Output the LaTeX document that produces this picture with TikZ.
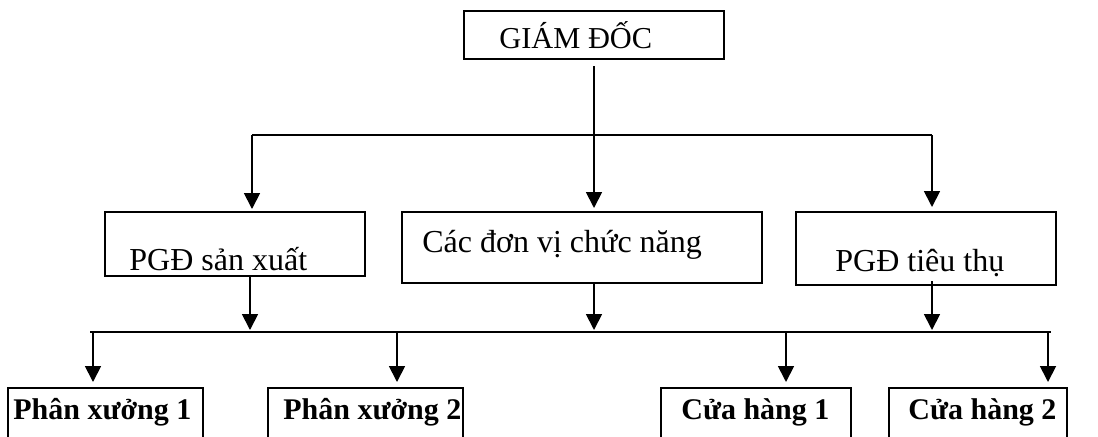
\documentclass[tikz,border=0pt]{standalone}
\usepackage{fontspec}
\setmainfont{Liberation Serif}
\usetikzlibrary{arrows.meta}
\tikzset{
  box/.style={draw, line width=0.7pt, rectangle, inner sep=0pt, outer sep=0pt, anchor=north west},
  txt/.style={inner sep=0pt, anchor=base west, font=\fontsize{16}{19}\selectfont},
  btxt/.style={inner sep=0pt, anchor=base west, font=\fontsize{15}{18}\selectfont\bfseries},
  bus/.style={line width=0.65pt},
  arr/.style={line width=0.9pt, -{Triangle[width=8pt,length=8pt]}}
}
\begin{document}
\begin{tikzpicture}[x=0.5pt, y=-0.5pt]
                \clip (0,0) rectangle (1098,436);
                \fill[white] (0,0) rectangle (1098,436);

                % boxes
                \node[box, minimum width=130pt, minimum height=24pt] (gd) at (464,11) {};
                \node[box, minimum width=130pt, minimum height=32pt] (psx) at (105,212) {};
                \node[box, minimum width=180pt, minimum height=35.5pt] (dvcn) at (402,212) {};
                \node[box, minimum width=130pt, minimum height=36.5pt] (ptt) at (796,212) {};
                \node[box, minimum width=97.5pt, minimum height=30pt] (px1) at (8,388) {};
                \node[box, minimum width=97.5pt, minimum height=30pt] (px2) at (268,388) {};
                \node[box, minimum width=95pt, minimum height=30pt] (ch1) at (661,388) {};
                \node[box, minimum width=89pt, minimum height=30pt] (ch2) at (889,388) {};

                % texts
                \node[txt, font=\fontsize{15.2}{18}\selectfont] (gdt) at (499,48) {GIÁM ĐỐC};
                \node[txt] (psxt) at (129,270) {PGĐ sản xuất};
                \node[txt] (dvcnt) at (422,252) {Các đơn vị chức năng};
                \node[txt] (pttt) at (835,271) {PGĐ tiêu thụ};
                \node[btxt] (px1t) at (13,419) {Phân xưởng 1};
                \node[btxt] (px2t) at (283,419) {Phân xưởng 2};
                \node[btxt] (ch1t) at (681,419) {Cửa hàng 1};
                \node[btxt] (ch2t) at (908,419) {Cửa hàng 2};

                % upper bus
                \coordinate (b1l) at (252,135);
                \coordinate (b1r) at (932,135);
                \coordinate (b1m) at (594,135);
                \draw[bus] (b1l) -- (b1r);
                \draw[arr, shorten <=3.5pt, shorten >=2pt] (b1m |- gd.south) -- (b1m |- dvcn.north);
                \draw[arr, shorten >=1.5pt] (b1l) -- (b1l |- psx.north);
                \draw[arr, shorten >=2.5pt] (b1r) -- (b1r |- ptt.north);

                % lower bus
                \coordinate (b2l) at (90,332);
                \coordinate (b2r) at (1051,332);
                \draw[bus] (b2l) -- (b2r);
                \coordinate (u1) at (250,332);
                \coordinate (u2) at (594,332);
                \coordinate (u3) at (932,332);
                \draw[arr, shorten <=0.5pt, shorten >=1pt] (u1 |- psx.south) -- (u1);
                \draw[arr, shorten >=1pt] (u2 |- dvcn.south) -- (u2);
                \draw[arr, shorten <=-2pt, shorten >=1pt] (u3 |- ptt.south) -- (u3);

                \coordinate (d1) at (93,332);
                \coordinate (d2) at (397,332);
                \coordinate (d3) at (786,332);
                \coordinate (d4) at (1048,332);
                \draw[arr, shorten >=3pt] (d1) -- (d1 |- px1.north);
                \draw[arr, shorten >=3pt] (d2) -- (d2 |- px2.north);
                \draw[arr, shorten >=3pt] (d3) -- (d3 |- ch1.north);
                \draw[arr, shorten >=3pt] (d4) -- (d4 |- ch2.north);
            \end{tikzpicture}
\end{document}
